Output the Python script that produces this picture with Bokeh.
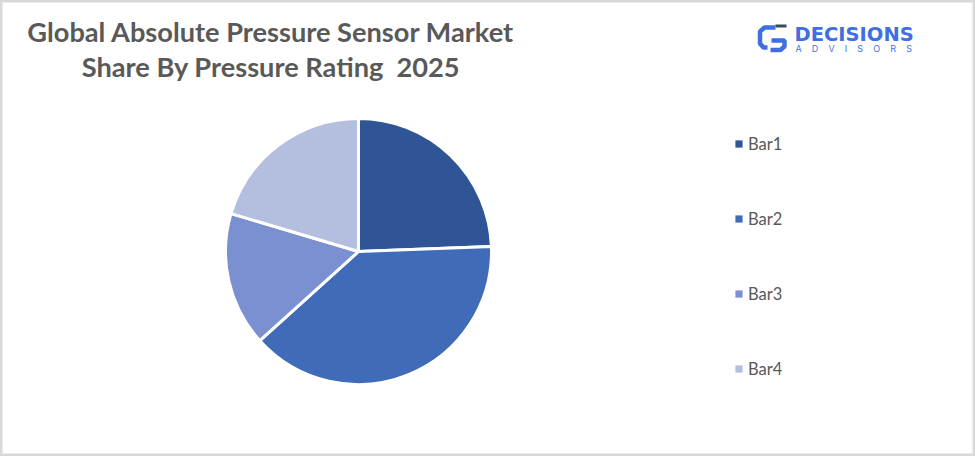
from bokeh.plotting import figure
from bokeh.models import Label, Legend, LegendItem, Range1d
from bokeh.embed import file_html
from bokeh.resources import INLINE
import math

categories = ["Bar1", "Bar2", "Bar3", "Bar4"]
shares = [24.4, 38.9, 16.3, 20.4]
colors = ["#2f5597", "#3f6bb8", "#7a90d0", "#b4bfdf"]
title_lines = ["Global Absolute Pressure Sensor Market", "Share By Pressure Rating\u00a0\u00a02025"]
logo_name = "DECISIONS"
logo_sub = "\u00a0\u00a0\u00a0\u00a0".join("ADVISORS")

W, H = 975, 456
p = figure(width=W, height=H, output_backend="svg", toolbar_location=None,
           x_range=Range1d(0, W), y_range=Range1d(0, H), min_border=0)
p.axis.visible = False
p.grid.visible = False
p.outline_line_color = "#d9d9d9"
p.outline_line_width = 4
p.background_fill_color = "white"

def Y(py):
    return H - py

total = sum(shares)
a = math.pi / 2
items = []
nan = float("nan")
for c, v, col in zip(categories, shares, colors):
    b = a - 2 * math.pi * v / total
    p.wedge(x=[358], y=[Y(251)], radius=133, start_angle=[a], end_angle=[b],
            direction="clock", fill_color=col, line_color="white", line_width=3)
    swatch = p.quad(left=[nan], right=[nan], top=[nan], bottom=[nan], fill_color=col, line_color=None)
    items.append(LegendItem(label=c, renderers=[swatch]))
    a = b

leg = Legend(items=items, location=(734, 77.5), border_line_color=None, background_fill_alpha=0,
             glyph_width=9, glyph_height=9, spacing=55, label_text_font="Lato",
             label_text_font_size="16.5px", label_text_color="#595959", margin=0, padding=0,
             label_standoff=5)
p.add_layout(leg)

for t, y in zip(title_lines, [31, 66]):
    p.add_layout(Label(x=270.5, y=Y(y), text=t, text_font="Lato", text_font_size="27.2px",
                       text_font_style="bold", text_color="#595959", text_align="center",
                       text_baseline="middle"))

# logo
p.add_layout(Label(x=794, y=Y(33.5), text=logo_name, text_font="DejaVu Sans", text_font_size="19.5px",
                   text_font_style="bold", text_color="#3f6fe0", text_baseline="middle"))
p.add_layout(Label(x=795, y=Y(48), text=logo_sub, text_font="Inter", text_font_size="9px",
                   text_color="#3f6fe0", text_baseline="middle"))
p.multi_line(xs=[[775, 764, 759.5, 759.5, 763, 767], [771, 784, 784, 780, 770]],
             ys=[[Y(v) for v in [27, 27, 31, 43, 47, 47]], [Y(v) for v in [40, 40, 46, 49.5, 49.5]]],
             line_color="#3f6fe0", line_width=4.5)
p.line(x=[775, 786], y=[Y(25.5), Y(25.5)], line_color="#3a4a5c", line_width=3)

open("out.html", "w").write(file_html(p, INLINE))
